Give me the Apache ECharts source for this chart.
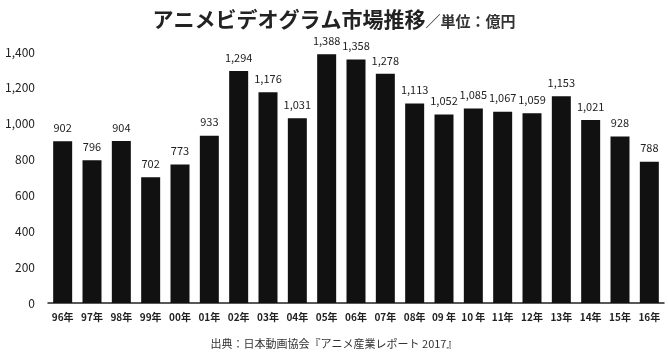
<!DOCTYPE html>
<html>
<head>
<meta charset="utf-8">
<script src="https://cdn.jsdelivr.net/npm/echarts@6/dist/echarts.min.js"></script>
<style>
  html, body { margin: 0; padding: 0; background: #fff; }
  #chart { width: 668px; height: 354px; }
</style>
</head>
<body>
<div id="chart"></div>
<script>
// Anime videogram market, 100 million yen
var years = ['96年', '97年', '98年', '99年', '00年', '01年', '02年', '03年', '04年', '05年', '06年',
  '07年', '08年', '09 年', '10 年', '11年', '12年', '13年', '14年', '15年', '16年'];
var sales = [902, 796, 904, 702, 773, 933, 1294, 1176, 1031, 1388, 1358,
  1278, 1113, 1052, 1085, 1067, 1059, 1153, 1021, 928, 788];

var fontFamily = '"Noto Sans CJK JP", "Noto Sans", sans-serif';
var chart = echarts.init(document.getElementById('chart'));

chart.setOption({
  animation: false,
  backgroundColor: '#fff',
  textStyle: { fontFamily: fontFamily },
  title: [{
    text: '{main|アニメビデオグラム市場推移}{unit|／単位：億円}',
    left: 'center',
    top: 4,
    textStyle: {
      rich: {
        main: { fontSize: 21, fontWeight: 'bold', color: '#222', fontFamily: fontFamily },
        unit: { fontSize: 15, fontWeight: 'bold', color: '#333', fontFamily: fontFamily, padding: [3, 0, 0, 0] }
      }
    }
  }, {
    text: '出典：日本動画協会『アニメ産業レポート 2017』',
    left: 'center',
    top: 333,
    textStyle: { fontSize: 11, fontWeight: 'normal', color: '#333', fontFamily: fontFamily }
  }],
  grid: { left: 48, right: 4, top: 52, bottom: 51 },
  xAxis: {
    type: 'category',
    data: years,
    axisLine: { lineStyle: { color: '#222', width: 1.5 } },
    axisTick: { show: false },
    axisLabel: { color: '#222', fontSize: 10, fontWeight: 'bold', margin: 9, interval: 0 }
  },
  yAxis: {
    type: 'value',
    min: 0,
    max: 1400,
    interval: 200,
    axisLine: { show: false },
    axisTick: { show: false },
    splitLine: { show: false },
    axisLabel: {
      color: '#222',
      fontSize: 12,
      margin: 13,
      formatter: function (v) { return v.toLocaleString('en-US'); }
    }
  },
  series: [{
    type: 'bar',
    data: sales,
    barWidth: 19,
    itemStyle: { color: '#111' },
    label: {
      show: true,
      position: 'top',
      distance: 8,
      color: '#222',
      fontSize: 11,
      formatter: function (p) { return p.value.toLocaleString('en-US'); }
    }
  }]
});
</script>
</body>
</html>
